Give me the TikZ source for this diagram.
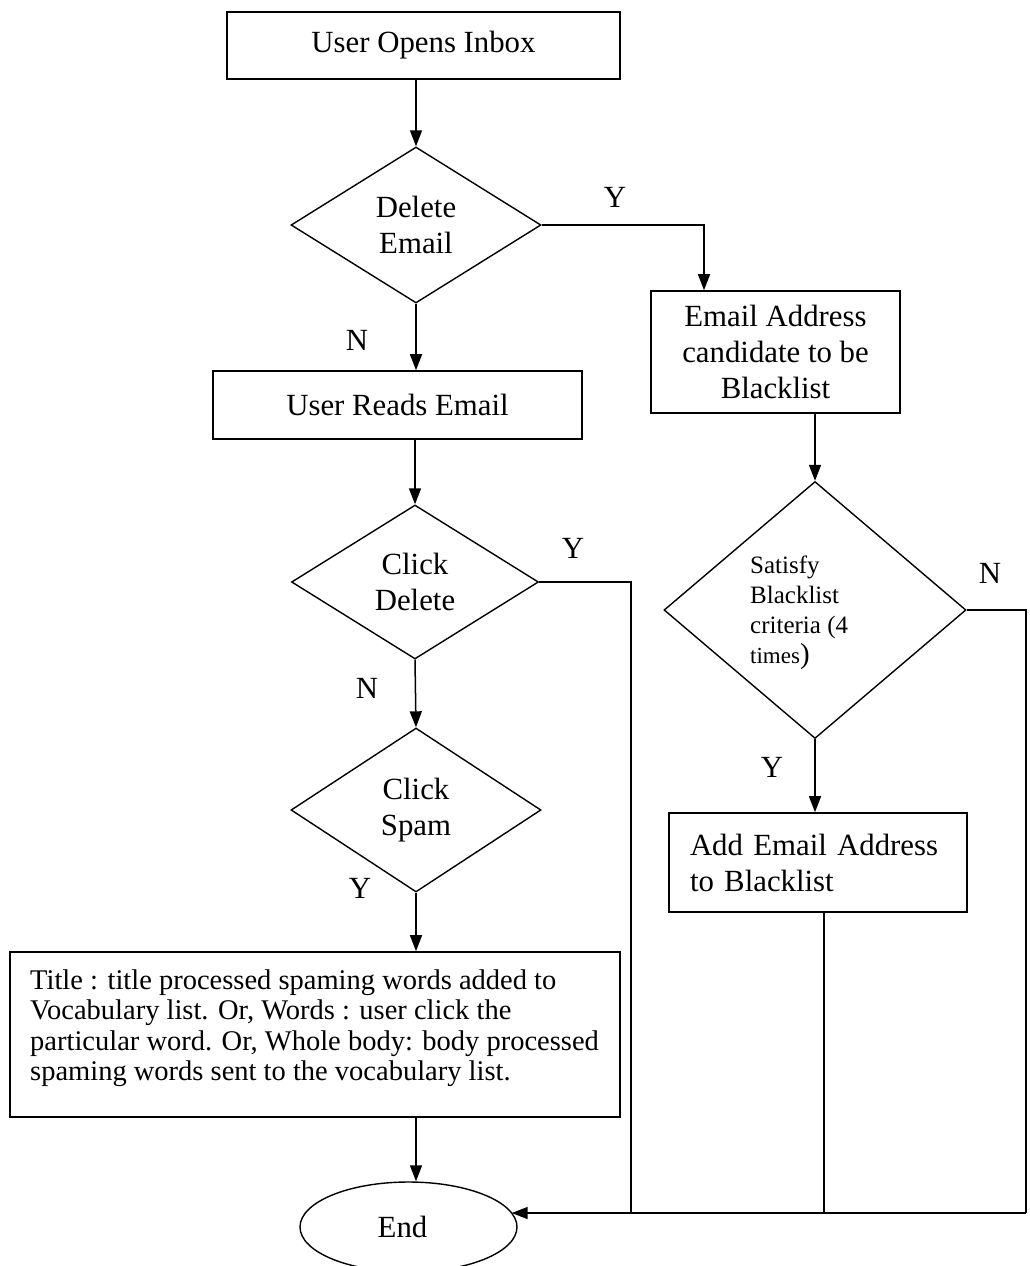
\documentclass[tikz,border=0pt]{standalone}
\usepackage{fontspec}
\setmainfont{Liberation Serif}
\usetikzlibrary{shapes.geometric,arrows.meta,calc}

\begin{document}
\begin{tikzpicture}[x=1pt,y=-1pt,
  every node/.style={font=\fontsize{30.8}{36}\selectfont, inner sep=0pt},
  proc/.style={draw, line width=1.6pt, rectangle, align=center},
  decide/.style={draw, line width=1.4pt, diamond, align=center},
  term/.style={draw, line width=1.4pt, ellipse},
  flow/.style={line width=1.5pt},
  arr/.style={flow, -{Triangle[length=16pt,width=12pt]}}
]
\useasboundingbox (0,0) rectangle (1029,1266);

% main column
\node[proc, minimum width=393pt, minimum height=67pt] (open) at (423.5,45.5) {User Opens Inbox};
\node[decide, minimum width=250pt, minimum height=156pt] (del) at (416,225) {Delete\\Email};
\node[proc, minimum width=369pt, minimum height=68pt] (read) at (397.5,405) {User Reads Email};
\node[decide, minimum width=247pt, minimum height=154pt] (clk) at (415,582) {Click\\Delete};
\node[decide, minimum width=250pt, minimum height=164pt] (spam) at (416,810) {Click\\Spam};
\node[proc, minimum width=610pt, minimum height=165pt] (vocab) at (315,1034.5) {};
\node[anchor=west, align=left, font=\fontsize{28.5}{30.5}\selectfont] (vocabtext) at (30,1028)
  {Title : title processed spaming words added to\\
   Vocabulary list. Or, Words : user click the\\
   particular word. Or, Whole body: body processed\\
   spaming words sent to the vocabulary list.};
\node[term, minimum width=217pt, minimum height=90pt] (stop) at (408.5,1227) {\hspace*{-12pt}End};

% blacklist column
\node[proc, minimum width=249pt, minimum height=122pt] (cand) at (775.5,352) {Email Address\\candidate to be\\Blacklist};
\node[decide, minimum width=302pt, minimum height=257pt] (crit) at (815,610) {};
\node[anchor=west, align=left, font=\fontsize{25}{30}\selectfont] (crittext) at (750,613)
  {Satisfy\\Blacklist\\criteria (4\\{\fontsize{23}{30}\selectfont times}{\fontsize{29}{30}\selectfont )}};
\node[proc, align=left, text width=256pt, inner xsep=21pt, minimum height=99pt] (addbl) at (818,862.5)
  {Add Email Address\\to Blacklist};

% connectors
\draw[arr] (open.south -| del.north) -- (del.north);
\draw[arr] (del.south) -- (del.south |- read.north);
\draw[arr] (read.south -| clk.north) -- (clk.north);
\draw[arr] (clk.south) -- (spam.north);
\draw[arr] (spam.south) -- (spam.south |- vocab.north);
\draw[arr] (vocab.south -| spam.south) -- (spam.south |- stop.north);

\coordinate (yturn) at (704,225);
\draw[arr] (del.east) -- (yturn) -- (yturn |- cand.north);
\draw[arr] (cand.south -| crit.north) -- (crit.north);
\draw[arr] (crit.south) -- (crit.south |- addbl.north);

\coordinate (rcorner) at (1026,1213);
\coordinate (clkjoin) at (631,1213);
\coordinate (addjoin) at (824,1213);
\coordinate (endin) at ($(stop.center)+(103.2,-14)$);
\draw[flow] (crit.east) -| (rcorner);
\draw[arr] (rcorner) -- (endin);
\draw[flow] (clk.east) -| (clkjoin);
\draw[flow] (addjoin |- addbl.south) -- (addjoin);

% branch labels
\node (ydel) at (615,197) {Y};
\node (ndel) at (357,340) {N};
\node (yclk) at (573,548) {Y};
\node (nclk) at (367,688) {N};
\node (ncrit) at (990,573) {N};
\node (ycrit) at (772,767) {Y};
\node (yspam) at (360,888) {Y};
\end{tikzpicture}
\end{document}
